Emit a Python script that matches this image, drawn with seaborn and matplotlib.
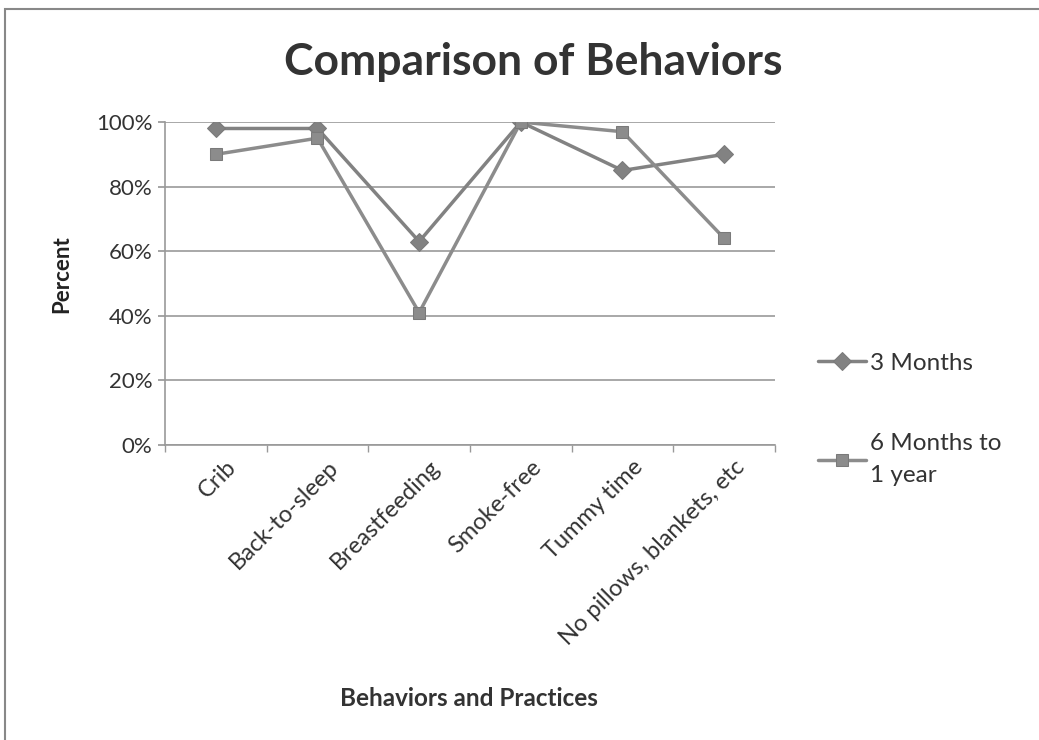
import matplotlib.pyplot as plt
import matplotlib.patches as mpatches
import matplotlib.transforms as mtransforms
import seaborn as sns
import pandas as pd

categories = ["Crib", "Back-to-sleep", "Breastfeeding", "Smoke-free",
              "Tummy time", "No pillows, blankets, etc"]
three_months = [98, 98, 63, 100, 85, 90]
six_to_twelve = [90, 95, 41, 100, 97, 64]
series_names = ["3 Months", "6 Months to\n1 year"]
y_ticks = [0, 20, 40, 60, 80, 100]

df = pd.DataFrame({
    "behavior": categories * 2,
    "percent": three_months + six_to_twelve,
    "group": [series_names[0]] * len(categories) + [series_names[1]] * len(categories),
})

sns.set_theme(style="white")
plt.rcParams["font.family"] = ["Lato", "DejaVu Sans"]

fig = plt.figure(figsize=(10.39, 7.40), dpi=100)
ax = fig.add_axes([0.1588, 0.3986, 0.5871, 0.4365])

sns.lineplot(data=df, x="behavior", y="percent", hue="group", style="group",
             palette=["#828282", "#8c8c8c"],
             markers={series_names[0]: "D", series_names[1]: "s"},
             dashes=False, markersize=9, linewidth=2.5,
             markeredgecolor="#7a7a7a", sort=False, ax=ax)

ax.set_xlim(-0.5, len(categories) - 0.5)
ax.set_ylim(0, 100)
ax.set_yticks(y_ticks)
ax.set_yticklabels([f"{v}%" for v in y_ticks], fontsize=16, color="#333333")
ax.yaxis.grid(True, color="#999999", linewidth=1.2)
ax.tick_params(axis="y", length=5, color="#999999", direction="out", left=True, pad=4)

# category labels sit in the middle of each bin, tick marks on the bin edges
ax.set_xticks(range(len(categories)))
ax.set_xticklabels(categories, rotation=45, ha="right", rotation_mode="anchor",
                   fontsize=17, color="#333333")
ax.tick_params(axis="x", length=0, pad=8)
shift = mtransforms.ScaledTranslation(10 / 100, 0, fig.dpi_scale_trans)
for lbl in ax.get_xticklabels():
    lbl.set_transform(lbl.get_transform() + shift)
ax.set_xticks([i - 0.5 for i in range(len(categories) + 1)], minor=True)
ax.tick_params(axis="x", which="minor", length=5, color="#999999", bottom=True)

for side in ["top", "right"]:
    ax.spines[side].set_visible(False)
for side in ["left", "bottom"]:
    ax.spines[side].set_color("#999999")
    ax.spines[side].set_linewidth(1.2)

ax.set_xlabel("Behaviors and Practices", fontsize=17.5, fontweight="bold", color="#333333")
ax.xaxis.set_label_coords(0.498, -0.75)
ax.set_ylabel("Percent", fontsize=16, fontweight="bold", color="#222222")
ax.yaxis.set_label_coords(-0.152, 0.53)

fig.text(0.513, 0.916, "Comparison of Behaviors", ha="center", va="center",
         fontsize=32, fontweight="bold", color="#333333")

leg = ax.legend(loc="upper left", bbox_to_anchor=(0.766, 0.553),
                bbox_transform=fig.transFigure, frameon=False, fontsize=17.5,
                handlelength=2.0, labelspacing=2.45, handletextpad=0.15)
for t in leg.get_texts():
    t.set_color("#333333")
    t.set_linespacing(1.65)

fig.patches.append(mpatches.Rectangle((0.005, -0.1), 1.2, 0.1 + 0.988, fill=False,
                                      edgecolor="#888888", linewidth=1.5,
                                      transform=fig.transFigure))

fig.savefig("out.png", dpi=100, facecolor="white")
